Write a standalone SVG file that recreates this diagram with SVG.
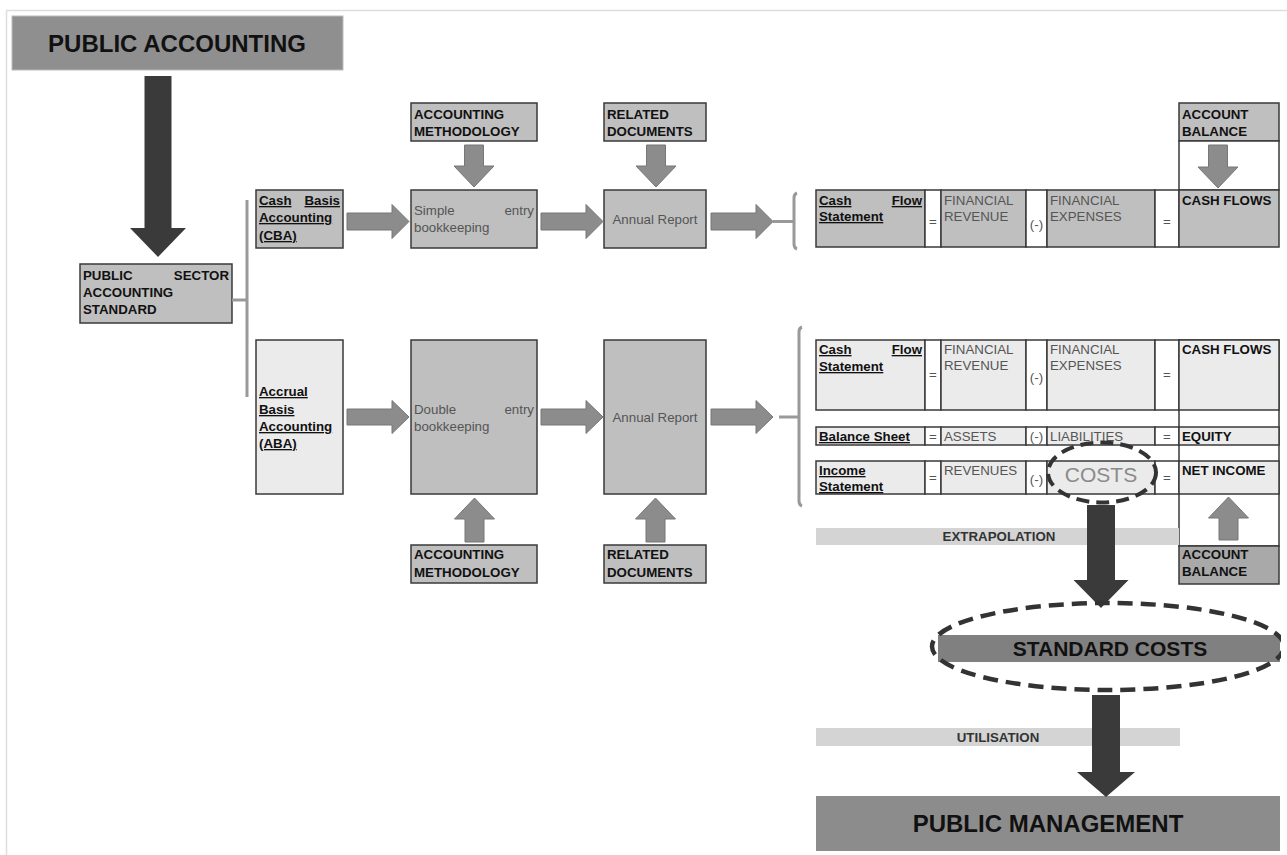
<svg xmlns="http://www.w3.org/2000/svg" width="1287" height="855" viewBox="0 0 1287 855">
<style>
text{font-family:"Liberation Sans",Arial,sans-serif;font-size:13.3px;fill:#111}
.b{font-weight:bold}
.u{text-decoration:underline}
.g{fill:#555}
.box{fill:#bfbfbf;stroke:#3a3a3a;stroke-width:1.5}
.lt{fill:#ebebeb;stroke:#3a3a3a;stroke-width:1.5}
.wh{fill:#fff;stroke:#3a3a3a;stroke-width:1.5}
.ga{fill:#8c8c8c;stroke:#777;stroke-width:1}
.da{fill:#3a3a3a}
.br{fill:none;stroke:#999;stroke-width:3}
.c{text-anchor:middle}
.e{text-anchor:end}
</style>
<defs>
<clipPath id="clipR"><rect x="0" y="0" width="1281" height="855"/></clipPath>
</defs>
<rect width="1287" height="855" fill="#fff"/>
<path d="M6.5,855 V10.5 H1287" fill="none" stroke="#ddd" stroke-width="1.5"/>

<g id="public-accounting">
<rect x="12" y="16" width="331" height="54" fill="#8f8f8f" stroke="#bbb" stroke-width="1"/>
<text x="177" y="52" class="b c" style="font-size:24px">PUBLIC ACCOUNTING</text>
</g>

<g id="psas">
<rect x="80" y="264" width="152" height="59" class="box"/>
<text x="83" y="280" class="b">PUBLIC</text><text x="229" y="280" class="b e">SECTOR</text>
<text x="83" y="297" class="b">ACCOUNTING</text>
<text x="83" y="314" class="b">STANDARD</text>
</g>

<g id="cba">
<rect x="256" y="190" width="87" height="58" class="box"/>
<text x="259" y="205" class="b u">Cash</text><text x="340" y="205" class="b u e">Basis</text>
<text x="259" y="222" class="b u">Accounting</text>
<text x="259" y="240" class="b u">(CBA)</text>
</g>

<g id="aba">
<rect x="256" y="340" width="87" height="154" class="lt"/>
<text x="259" y="396" class="b u">Accrual</text>
<text x="259" y="414" class="b u">Basis</text>
<text x="259" y="431" class="b u">Accounting</text>
<text x="259" y="448" class="b u">(ABA)</text>
</g>

<g id="acc-meth-top">
<rect x="411" y="103" width="126" height="38" class="box"/>
<text x="414" y="119" class="b">ACCOUNTING</text>
<text x="414" y="136" class="b">METHODOLOGY</text>
</g>
<g id="rel-docs-top">
<rect x="604" y="103" width="102" height="38" class="box"/>
<text x="607" y="119" class="b">RELATED</text>
<text x="607" y="136" class="b">DOCUMENTS</text>
</g>

<g id="simple-entry">
<rect x="411" y="190" width="126" height="58" class="box"/>
<text x="414" y="215" class="g">Simple</text><text x="534" y="215" class="g e">entry</text>
<text x="414" y="232" class="g">bookkeeping</text>
</g>
<g id="annual-report-1">
<rect x="604" y="190" width="102" height="58" class="box"/>
<text x="655" y="224" class="g c">Annual Report</text>
</g>

<g id="double-entry">
<rect x="411" y="340" width="126" height="154" class="box"/>
<text x="414" y="414" class="g">Double</text><text x="534" y="414" class="g e">entry</text>
<text x="414" y="431" class="g">bookkeeping</text>
</g>
<g id="annual-report-2">
<rect x="604" y="340" width="102" height="154" class="box"/>
<text x="655" y="422" class="g c">Annual Report</text>
</g>

<g id="acc-meth-bottom">
<rect x="411" y="545" width="126" height="38" class="box"/>
<text x="414" y="559" class="b">ACCOUNTING</text>
<text x="414" y="577" class="b">METHODOLOGY</text>
</g>
<g id="rel-docs-bottom">
<rect x="604" y="545" width="102" height="38" class="box"/>
<text x="607" y="559" class="b">RELATED</text>
<text x="607" y="577" class="b">DOCUMENTS</text>
</g>

<g id="account-balance-top">
<rect x="1179" y="103" width="100" height="38" class="box"/>
<text x="1182" y="119" class="b">ACCOUNT</text>
<text x="1182" y="136" class="b">BALANCE</text>
<rect x="1179" y="141" width="100" height="49" class="wh"/>
</g>

<g id="cash-flow-1">
<rect x="816" y="190" width="109" height="57" class="box"/>
<rect x="925" y="190" width="16" height="57" class="wh"/>
<rect x="941" y="190" width="85" height="57" class="box"/>
<rect x="1026" y="190" width="21" height="57" class="wh"/>
<rect x="1047" y="190" width="108" height="57" class="box"/>
<rect x="1155" y="190" width="24" height="57" class="wh"/>
<rect x="1179" y="190" width="100" height="57" class="box"/>
<text x="819" y="205" class="b u">Cash</text><text x="922" y="205" class="b u e">Flow</text>
<text x="819" y="221" class="b u">Statement</text>
<text x="933" y="226" class="g c">=</text>
<text x="944" y="205" class="g">FINANCIAL</text>
<text x="944" y="221" class="g">REVENUE</text>
<text x="1036.5" y="229" class="g c">(-)</text>
<text x="1050" y="205" class="g">FINANCIAL</text>
<text x="1050" y="221" class="g">EXPENSES</text>
<text x="1167" y="226" class="g c">=</text>
<text x="1182" y="205" class="b">CASH FLOWS</text>
</g>

<g id="right-column">
<rect x="1179" y="340" width="100" height="206" class="wh"/>
</g>

<g id="cash-flow-2">
<rect x="816" y="340" width="109" height="70" class="lt"/>
<rect x="925" y="340" width="16" height="70" class="wh"/>
<rect x="941" y="340" width="85" height="70" class="lt"/>
<rect x="1026" y="340" width="21" height="70" class="wh"/>
<rect x="1047" y="340" width="108" height="70" class="lt"/>
<rect x="1155" y="340" width="24" height="70" class="wh"/>
<rect x="1179" y="340" width="100" height="70" class="lt"/>
<text x="819" y="354" class="b u">Cash</text><text x="922" y="354" class="b u e">Flow</text>
<text x="819" y="371" class="b u">Statement</text>
<text x="933" y="379" class="g c">=</text>
<text x="944" y="354" class="g">FINANCIAL</text>
<text x="944" y="370" class="g">REVENUE</text>
<text x="1036.5" y="382" class="g c">(-)</text>
<text x="1050" y="354" class="g">FINANCIAL</text>
<text x="1050" y="370" class="g">EXPENSES</text>
<text x="1167" y="379" class="g c">=</text>
<text x="1182" y="354" class="b">CASH FLOWS</text>
</g>

<g id="balance-sheet">
<rect x="816" y="427" width="109" height="18" class="lt"/>
<rect x="925" y="427" width="16" height="18" class="wh"/>
<rect x="941" y="427" width="85" height="18" class="lt"/>
<rect x="1026" y="427" width="21" height="18" class="wh"/>
<rect x="1047" y="427" width="108" height="18" class="lt"/>
<rect x="1155" y="427" width="24" height="18" class="wh"/>
<rect x="1179" y="427" width="100" height="18" class="lt"/>
<text x="819" y="441" class="b u">Balance Sheet</text>
<text x="933" y="441" class="g c">=</text>
<text x="944" y="441" class="g">ASSETS</text>
<text x="1036.5" y="441" class="g c">(-)</text>
<text x="1050" y="441" class="g">LIABILITIES</text>
<text x="1167" y="441" class="g c">=</text>
<text x="1182" y="441" class="b">EQUITY</text>
</g>

<g id="income-statement">
<rect x="816" y="461" width="109" height="33" class="lt"/>
<rect x="925" y="461" width="16" height="33" class="wh"/>
<rect x="941" y="461" width="85" height="33" class="lt"/>
<rect x="1026" y="461" width="21" height="33" class="wh"/>
<rect x="1047" y="461" width="108" height="33" class="lt"/>
<rect x="1155" y="461" width="24" height="33" class="wh"/>
<rect x="1179" y="461" width="100" height="33" class="lt"/>
<text x="819" y="475" class="b u">Income</text>
<text x="819" y="491" class="b u">Statement</text>
<text x="933" y="482" class="g c">=</text>
<text x="944" y="475" class="g">REVENUES</text>
<text x="1036.5" y="484" class="g c">(-)</text>
<text x="1101" y="482" class="c" style="font-size:21px;fill:#8a8a8a">COSTS</text>
<text x="1167" y="482" class="g c">=</text>
<text x="1182" y="475" class="b">NET INCOME</text>
</g>

<g id="account-balance-bottom">
<rect x="1179" y="546" width="100" height="38" fill="#a9a9a9" stroke="#3a3a3a" stroke-width="1.5"/>
<text x="1182" y="559" class="b">ACCOUNT</text>
<text x="1182" y="576" class="b">BALANCE</text>
</g>

<g id="extrapolation">
<rect x="816" y="528" width="363" height="17" fill="#d4d4d4"/>
<text x="999" y="541" class="b c" style="fill:#333">EXTRAPOLATION</text>
</g>

<g id="utilisation">
<rect x="816" y="728" width="364" height="18" fill="#d4d4d4"/>
<text x="998" y="742" class="b c" style="fill:#333">UTILISATION</text>
</g>

<g id="standard-costs">
<rect x="938" y="635" width="342" height="27" fill="#808080"/>
<text x="1110" y="656" class="b c" style="font-size:21px">STANDARD COSTS</text>
</g>

<g id="public-management">
<rect x="816" y="796" width="464" height="55" fill="#8c8c8c"/>
<text x="1048" y="832" class="b c" style="font-size:24px">PUBLIC MANAGEMENT</text>
</g>

<g id="connectors">
<polygon class="da" points="144.5,76 171.5,76 171.5,228 186,228 158,257 130,228 144.5,228"/>
<path class="br" d="M232,300 H247 M247,200 V397"/>
<path class="br" d="M773,221.5 H794 M797,193 Q794,194 794,198 V244 Q794,248 797,249"/>
<path class="br" d="M779,417 H799 M802,327 Q799,328 799,332 V501 Q799,505 802,506"/>
<polygon class="ga" points="347,213 392,213 392,204.5 409,221.5 392,238.5 392,230 347,230"/>
<polygon class="ga" points="541,213 586,213 586,204.5 603,221.5 586,238.5 586,230 541,230"/>
<polygon class="ga" points="711,213 756,213 756,204.5 773,221.5 756,238.5 756,230 711,230"/>
<polygon class="ga" points="347,409 392,409 392,400.5 409,417 392,433.5 392,425 347,425"/>
<polygon class="ga" points="541,409 586,409 586,400.5 603,417 586,433.5 586,425 541,425"/>
<polygon class="ga" points="711,409 756,409 756,400.5 773,417 756,433.5 756,425 711,425"/>
<polygon class="ga" points="464.5,145 483.5,145 483.5,166 494,166 474,187 454,166 464.5,166"/>
<polygon class="ga" points="646.5,145 665.5,145 665.5,166 676,166 656,187 636,166 646.5,166"/>
<polygon class="ga" points="1208.5,145 1227.5,145 1227.5,167 1238,167 1218,188 1198,167 1208.5,167"/>
<polygon class="ga" points="465,542 484,542 484,519 494.5,519 474.5,498 454.5,519 465,519"/>
<polygon class="ga" points="646,542 665,542 665,519 675.5,519 655.5,498 635.5,519 646,519"/>
<polygon class="ga" points="1219,540 1238,540 1238,518 1248.5,518 1228.5,497 1208.5,518 1219,518"/>
<polygon class="da" points="1087,505 1115,505 1115,580 1128.5,580 1101,608 1073.5,580 1087,580"/>
<polygon class="da" points="1092,695 1120,695 1120,772 1135,772 1106,797 1077,772 1092,772"/>
<ellipse cx="1102" cy="472.5" rx="54" ry="30" fill="none" stroke="#333" stroke-width="4" stroke-dasharray="13 7"/>
<ellipse cx="1108" cy="646.5" rx="176" ry="43.5" fill="none" stroke="#333" stroke-width="4.5" stroke-dasharray="15 8" clip-path="url(#clipR)"/>
</g>
</svg>
